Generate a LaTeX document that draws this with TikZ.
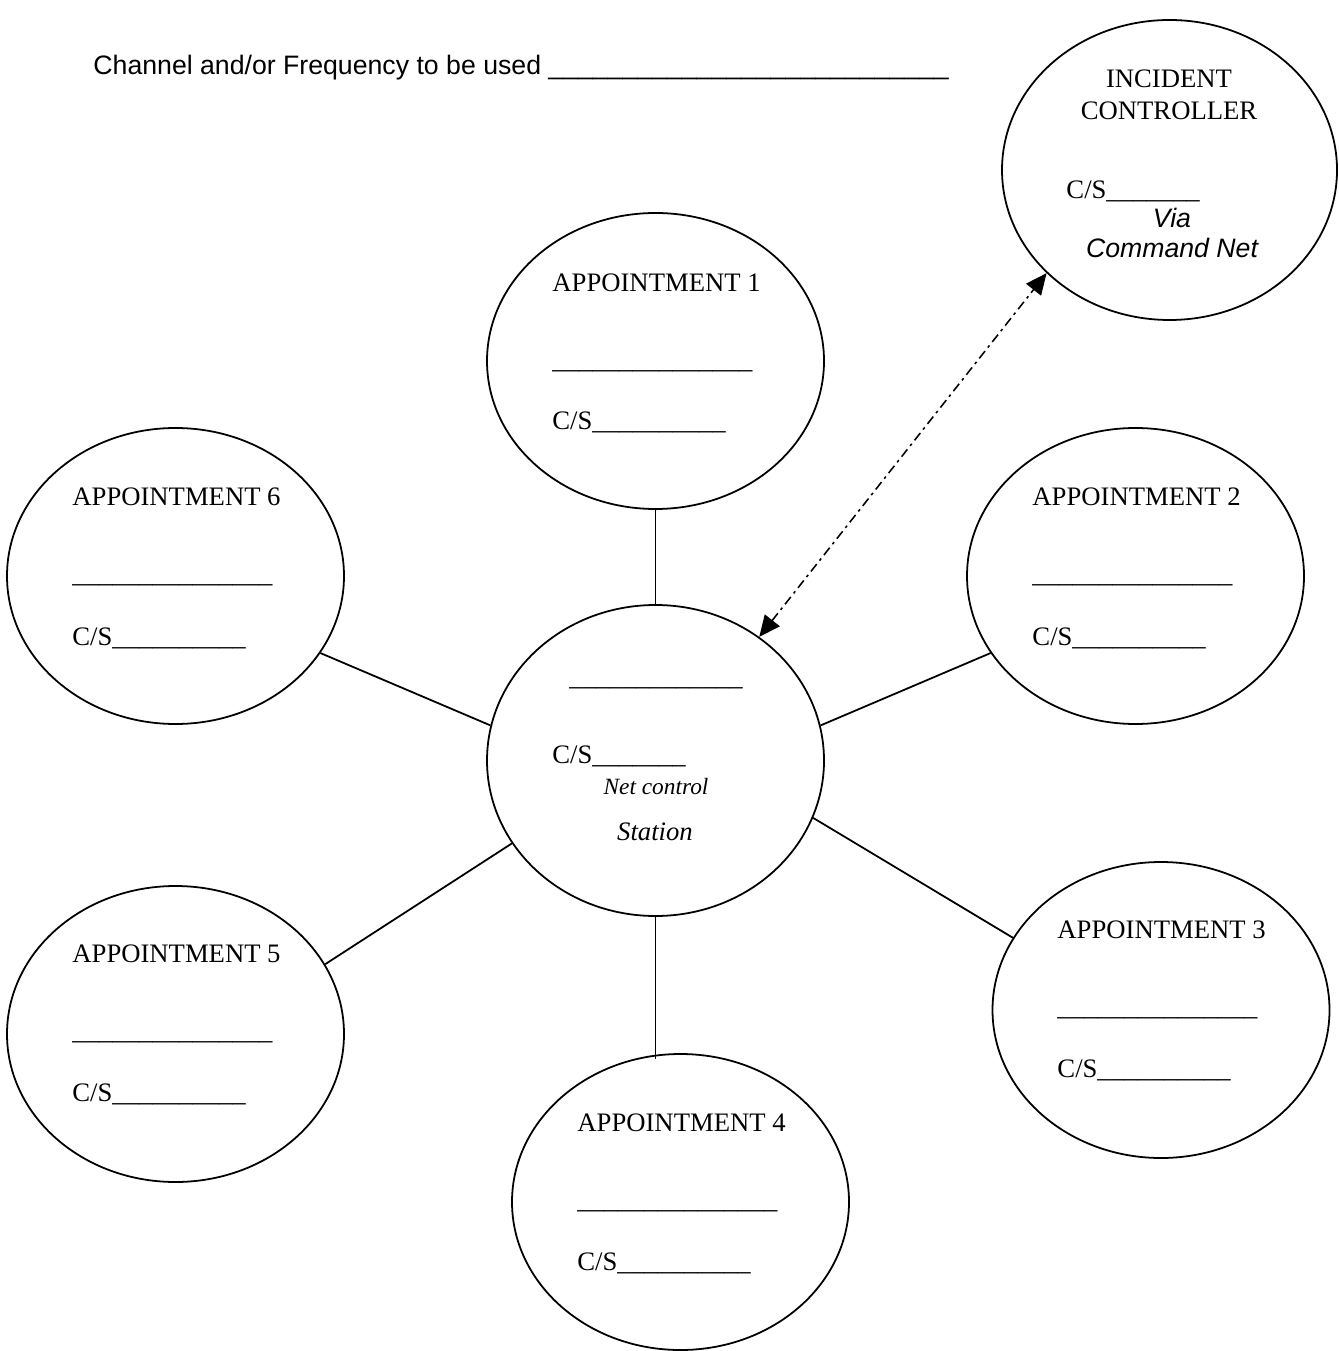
\documentclass[tikz,border=0pt]{standalone}
\usepackage{fontspec}
\setmainfont{Liberation Serif}
\newfontfamily\arialfont{Liberation Sans}
\usetikzlibrary{arrows.meta,shapes.geometric}
\newcommand\uscores[1]{\ifnum#1>0 \_\expandafter\uscores\expandafter{\the\numexpr#1-1\relax}\fi}
\tikzset{
  bubble/.style={draw, ellipse, line width=0.8pt, inner sep=0pt, minimum width=151.65pt, minimum height=133.2pt},
  txt/.style={inner sep=0pt, anchor=base west, font=\fontsize{12}{14}\selectfont},
  ctxt/.style={inner sep=0pt, anchor=base, font=\fontsize{12}{14}\selectfont},
  link/.style={line width=0.8pt},
  radio/.style={line width=0.7pt, dash pattern=on 4.2pt off 2pt on 1.2pt off 2pt, {Triangle[length=9.5pt,width=8.5pt]}-{Triangle[length=9.5pt,width=8.5pt]}}
}
\begin{document}
\begin{tikzpicture}[x=0.45pt,y=-0.45pt]
\useasboundingbox (0,0) rectangle (1338,1351);
% ellipses
\node[bubble, minimum height=139.95pt] (c) at (655.5,760.5) {};
\node[bubble] (a1) at (655.5,361) {};
\node[bubble] (a2) at (1135.5,576) {};
\node[bubble] (a3) at (1161,1010) {};
\node[bubble] (a4) at (680.5,1202) {};
\node[bubble] (a5) at (175.5,1034) {};
\node[bubble] (a6) at (175.5,576) {};
\node[bubble, minimum width=150.75pt, minimum height=135pt] (ic) at (1169.5,170) {};
% header
\node[txt, font=\arialfont\fontsize{12}{14}\selectfont] (hdr) at (93,75) {Channel and/or Frequency to be used \uscores{27}};
% appointment texts
\node[txt] (t1a) at (552,292) {APPOINTMENT 1};
\node[txt] (t1b) at (552,369) {\uscores{15}};
\node[txt] (t1c) at (552,430) {C/S\uscores{10}};
\node[txt] (t2a) at (1032,506) {APPOINTMENT 2};
\node[txt] (t2b) at (1032,583) {\uscores{15}};
\node[txt] (t2c) at (1032,645) {C/S\uscores{10}};
\node[txt] (t3a) at (1057,938) {APPOINTMENT 3};
\node[txt] (t3b) at (1057,1015) {\uscores{15}};
\node[txt] (t3c) at (1057,1077) {C/S\uscores{10}};
\node[txt] (t4a) at (577,1131) {APPOINTMENT 4};
\node[txt] (t4b) at (577,1208) {\uscores{15}};
\node[txt] (t4c) at (577,1270) {C/S\uscores{10}};
\node[txt] (t5a) at (72,962) {APPOINTMENT 5};
\node[txt] (t5b) at (72,1039) {\uscores{15}};
\node[txt] (t5c) at (72,1101) {C/S\uscores{10}};
\node[txt] (t6a) at (72,506) {APPOINTMENT 6};
\node[txt] (t6b) at (72,583) {\uscores{15}};
\node[txt] (t6c) at (72,645) {C/S\uscores{10}};
% central text
\node[txt] (cta) at (569,685) {\uscores{13}};
\node[txt] (ctb) at (552,763) {C/S\uscores{7}};
\node[ctxt, font=\itshape\fontsize{10.5}{12}\selectfont] (ctc) at (656,794) {Net control};
\node[ctxt, font=\itshape\fontsize{12}{14}\selectfont] (ctd) at (655,840) {Station};
% incident controller text
\node[ctxt] (ica) at (1169,88) {INCIDENT};
\node[ctxt] (icb) at (1169,120) {CONTROLLER};
\node[txt] (icc) at (1066,199) {C/S\uscores{7}};
\node[ctxt, font=\arialfont\itshape\fontsize{12}{14}\selectfont] (icd) at (1172,228) {Via};
\node[ctxt, font=\arialfont\itshape\fontsize{12}{14}\selectfont] (ice) at (1172,258) {Command Net};
% connectors
\draw[link] (a1.south) -- (c.north);
\draw[link, shorten >=-2.5pt] (c.south) -- (c.south |- a4.north);
\draw[link] (a6.-28.7) -- (c.168.8);
\draw[link] (a2.208.5) -- (c.12.9);
\draw[link] (a5.25.5) -- (c.210.8);
\draw[link] (a3.154.2) -- (c.-20.4);
\draw[radio] (c.50.3) -- (ic.220.8);
\end{tikzpicture}
\end{document}
